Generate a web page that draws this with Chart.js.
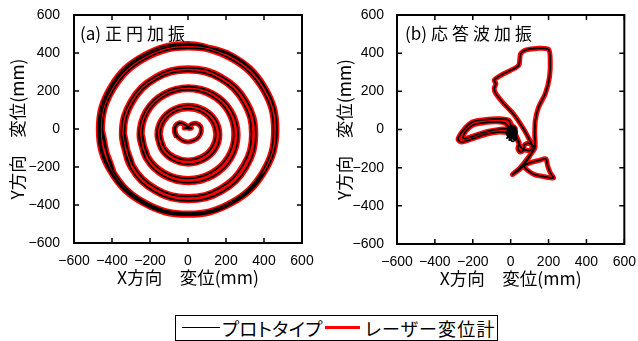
<!DOCTYPE html>
<html><head><meta charset="utf-8">
<script src="https://cdn.jsdelivr.net/npm/chart.js@4/dist/chart.umd.min.js"></script>
<style>
html,body{margin:0;padding:0;background:#fff;}
#wrap{position:relative;width:638px;height:341px;overflow:hidden;font-family:"Noto Sans CJK JP",sans-serif;color:#000;}
canvas{position:absolute;top:0;}
.ptitle{position:absolute;top:23px;font-size:17px;line-height:20px;letter-spacing:4px;white-space:nowrap;}
.ptitle .lat{letter-spacing:0;margin-right:4px;}
#legend{position:absolute;left:175px;top:315px;width:323px;height:26px;box-sizing:border-box;border:1px solid #000;}
#legend .ln{position:absolute;}
#legend .tx{position:absolute;top:0;line-height:24px;white-space:nowrap;font-feature-settings:"palt";}
</style></head>
<body><div id="wrap">
<canvas id="ca" width="320" height="300" style="left:0"></canvas>
<canvas id="cb" width="318" height="300" style="left:320px"></canvas>
<div class="ptitle" style="left:80px"><span class="lat">(a)</span>正円加振</div>
<div class="ptitle" style="left:405px"><span class="lat">(b)</span>応答波加振</div>
<div id="legend">
  <div class="ln" style="left:6px;top:11px;width:38px;height:1px;background:#000"></div>
  <div class="tx" style="left:46px;font-size:18.5px;letter-spacing:0.3px">プロトタイプ</div>
  <div class="ln" style="left:149px;top:10px;width:35px;height:3px;background:#f00"></div>
  <div class="tx" style="left:189px;font-size:18px;letter-spacing:1.2px">レーザー変位計</div>
</div>
</div>
<script>
// ---- data (mm) ----
const axisMin = -600, axisMax = 600, axisStep = 200;
const xTitle = 'X方向　変位(mm)';
const yTitle = 'Y方向　変位(mm)';
const seriesNames = ['プロトタイプ', 'レーザー変位計'];

// (a) circular excitation: heart-shaped start, then loops at each amplitude level
const aHeart = [[0,2],[18,5],[-20,5],[0,10],[-20,25],[-45,30],[-64,16],[-68,-10],[-56,-40],[-30,-60],[0,-68],[30,-61],[57,-42],[70,-12],[66,14],[45,29],[20,26],[0,12],[-22,27],[-47,32],[-67,16],[-72,-12],[-60,-44]];
const aRing2a = [[-146,-28],[-126,-96],[-73,-145],[0,-163],[73,-145],[126,-96],[146,-28],[126,40],[73,89],[0,107],[-73,89],[-126,40],[-146,-28],[-126,-96]];
const aRing2b = [[-164,-30],[-142,-108],[-81,-164],[2,-185],[85,-164],[146,-108],[168,-30],[146,48],[85,104],[2,125],[-81,104],[-142,48],[-164,-30],[-142,-108]];
const aRing3a = [[-241,-27],[-209,-144],[-121,-229],[0,-260],[121,-229],[209,-144],[241,-27],[209,90],[121,175],[0,206],[-121,175],[-209,90],[-241,-27],[-209,-144]];
const aRing3b = [[-258,-30],[-223,-157],[-128,-249],[3,-283],[134,-249],[229,-157],[264,-30],[229,97],[134,189],[3,223],[-128,189],[-223,97],[-258,-30],[-223,-157]];
const aRing4a = [[-334,-25],[-289,-190],[-167,-311],[0,-355],[167,-311],[289,-190],[334,-25],[289,140],[167,261],[0,305],[-167,261],[-289,140],[-334,-25],[-289,-190]];
const aRing4b = [[-351,-28],[-304,-203],[-174,-331],[3,-378],[180,-331],[310,-203],[357,-28],[310,147],[180,275],[3,322],[-174,275],[-304,147],[-351,-28],[-304,-203]];
const aRing5a = [[-450,-8],[-390,-225],[-225,-384],[0,-442],[225,-384],[390,-225],[450,-8],[390,209],[225,368],[0,426],[-225,368],[-390,209],[-450,-8],[-390,-225]];
const aRing5b = [[235,-391],[405,-228],[467,-5],[405,218],[235,381],[2,441],[-231,381],[-401,218],[-463,-5],[-401,-228],[-231,-391],[2,-451],[235,-391],[405,-228]];
const aRing5c = [[233,389],[-2,450],[-237,389],[-409,224],[-472,-2],[-409,-228],[-237,-393],[-2,-454],[233,-393],[405,-228],[468,-2],[405,224],[233,389],[-2,450]];

// (b) response-wave excitation
const bCenter = [[0,0],[15,-20],[25,5],[5,20],[-10,-15],[20,-30],[10,10]];
const bProtoBlob = [[5,-5],[-20,-30],[25,-45],[32,-5],[-18,12],[22,14],[-8,-55],[30,-28],[-24,-10],[8,-62],[34,-42],[-12,6],[15,-15],
                    [-20,-45],[28,8],[0,-35],[-15,-5],[20,-55],[-5,15],[30,-15],[-22,-25],[12,-45],[5,-10]];
const bLeftLobe = [[-9,48],[-60,56],[-130,52],[-200,40],[-245,2],[-278,-52],[-258,-66],[-200,-48],[-130,-25],[-60,-13],[0,-14],
                   [-25,30],[-75,40],[-138,36],[-198,24],[-236,-8],[-252,-44],[-238,-48],[-192,-32],[-122,-10],[-52,2],[10,2]];
const bHook = [[30,-35],[45,-70],[38,-100],[50,-118],[68,-108],[72,-82],[95,-72],[125,-95],[90,-150],[50,-200],[9,-236]];
const bLowerLobe = [[40,-215],[70,-190],[110,-172],[150,-162],[186,-154],[195,-190],[210,-228],[226,-254],[180,-248],[130,-238],[95,-218],[72,-193]];
const bUpperLobe = [[100,-140],[128,-95],[127,-23],[130,47],[148,118],[183,188],[205,275],[209,363],[200,420],
                    [140,425],[78,416],[52,395],[43,337],[0,310],[-52,284],[-87,258],[-78,240],[-87,214],[-78,188],
                    [-40,140],[20,75],[70,0],[100,-55],[113,-85],[105,-110],[60,-100],[30,-45],[8,-10]];

const BREAK = [null];
const aPath = [].concat(aHeart, BREAK, aRing2a, BREAK, aRing2b, BREAK, aRing3a, BREAK, aRing3b, BREAK,
                        aRing4a, BREAK, aRing4b, BREAK, aRing5a, BREAK, aRing5b, BREAK, aRing5c);
const bLaser = [].concat(bCenter, bLeftLobe, bHook, bLowerLobe, bUpperLobe);
const bProto = [].concat(bCenter, bProtoBlob, bLeftLobe, bHook, bLowerLobe, bUpperLobe);

const toXY = arr => arr.map(p => p ? ({x: p[0], y: p[1]}) : ({x: NaN, y: NaN}));

const framePlugin = {
  id: 'frame',
  afterDatasetsDraw(chart) {
    const {ctx, chartArea: {left, right, top, bottom}, scales: {x, y}} = chart;
    ctx.save();
    ctx.strokeStyle = '#000';
    ctx.lineWidth = 1.5;
    const L = 5;
    ctx.beginPath();
    x.ticks.forEach(t => {
      const px = x.getPixelForValue(t.value);
      ctx.moveTo(px, bottom); ctx.lineTo(px, bottom - L);
      ctx.moveTo(px, top); ctx.lineTo(px, top + L);
    });
    y.ticks.forEach(t => {
      const py = y.getPixelForValue(t.value);
      ctx.moveTo(left, py); ctx.lineTo(left + L, py);
      ctx.moveTo(right, py); ctx.lineTo(right - L, py);
    });
    ctx.stroke();
    ctx.lineWidth = 2;
    ctx.strokeRect(left, top, right - left, bottom - top);
    ctx.restore();
  }
};

function makeChart(id, protoData, laserData, cfg) {
  const tickFont = {family: 'Liberation Sans', size: 14};
  const titleFont = {family: 'Noto Sans CJK JP', size: 17.5};
  const fmt = v => String(v).replace('-', '\u2212');
  return new Chart(document.getElementById(id), {
    type: 'scatter',
    data: {
      datasets: [
        {label: seriesNames[0], data: toXY(protoData), showLine: true, spanGaps: false, borderColor: '#000', borderWidth: 1.7,
         pointRadius: 0, tension: cfg.tension, fill: false},
        {label: seriesNames[1], data: toXY(laserData), showLine: true, spanGaps: false, borderColor: 'rgb(255,0,0)', borderWidth: 5,
         pointRadius: 0, tension: cfg.tension, fill: false}
      ]
    },
    options: {
      responsive: false, animation: false, devicePixelRatio: 1,
      layout: {padding: {top: 15, right: cfg.padRight, left: 0, bottom: 0}},
      plugins: {legend: {display: false}, tooltip: {enabled: false}},
      scales: {
        x: {
          type: 'linear', min: axisMin, max: axisMax,
          grid: {display: false}, border: {display: false},
          ticks: {stepSize: axisStep, autoSkip: false, maxRotation: 0, padding: 2, font: tickFont, color: '#000', callback: fmt},
          title: {display: true, text: xTitle, font: titleFont, color: '#000', padding: {top: 0, bottom: cfg.xTitlePad}},
          afterFit: s => { s.height = cfg.xAxisH; }
        },
        y: {
          type: 'linear', min: axisMin, max: axisMax,
          grid: {display: false}, border: {display: false},
          ticks: {stepSize: axisStep, autoSkip: false, padding: cfg.yTickPad, font: tickFont, color: '#000', callback: fmt},
          title: {display: true, text: yTitle, font: titleFont, color: '#000', padding: {top: cfg.yTitlePad, bottom: 0}},
          afterFit: s => { s.width = cfg.yAxisW; }
        }
      }
    },
    plugins: [framePlugin]
  });
}

makeChart('ca', aPath, aPath, {tension: 0.4, padRight: 18, xAxisH: 57, yAxisW: 74, yTickPad: 6, yTitlePad: 7, xTitlePad: 12.5});
makeChart('cb', bProto, bLaser, {tension: 0.25, padRight: 12, xAxisH: 56, yAxisW: 77, yTickPad: 5, yTitlePad: 14, xTitlePad: 11.5});
</script>
</body></html>
